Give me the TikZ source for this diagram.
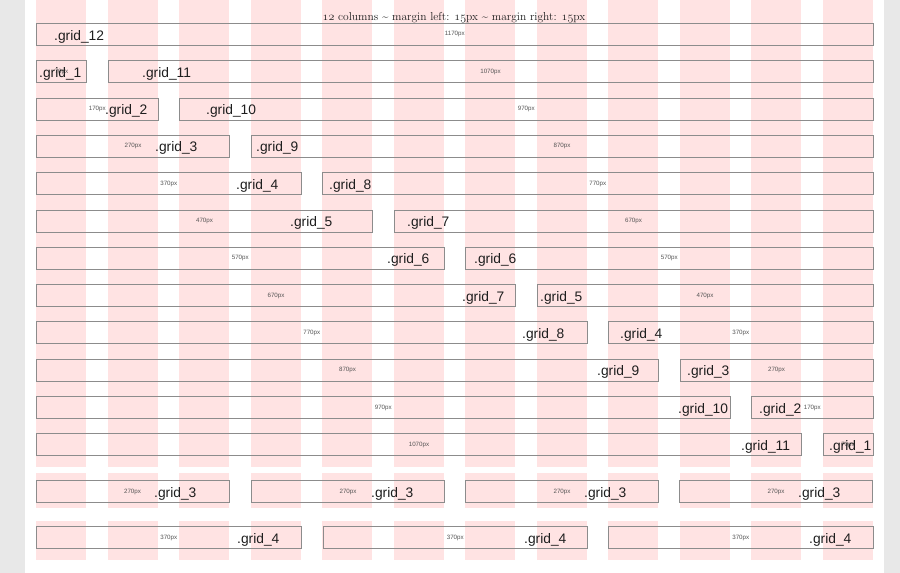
\documentclass[tikz,border=0pt]{standalone}
\usepackage{fontspec}
\newfontfamily\gridfont{Liberation Sans}
\definecolor{bggray}{RGB}{232,232,232}
\definecolor{colpink}{RGB}{255,227,227}
\definecolor{boxgray}{RGB}{140,140,140}
\definecolor{labtext}{RGB}{30,30,30}
\definecolor{pxtext}{RGB}{85,85,85}
\newcommand\osn[1]{{\fontencoding{OML}\fontfamily{cmm}\fontseries{m}\fontshape{it}\selectfont #1}}
\begin{document}
\begin{tikzpicture}[x=1pt,y=-1pt,
  gbox/.style={draw=boxgray, line width=1pt, inner sep=0pt, anchor=north west, minimum height=22pt},
  glabel/.style={font=\gridfont\fontsize{13.8}{14}\selectfont, text=labtext, inner sep=0pt, anchor=base west},
  pxlabel/.style={font=\gridfont\fontsize{6.2}{7}\selectfont, text=pxtext, inner sep=0pt, anchor=center},
  titlestyle/.style={font=\fontsize{11.5}{13}\selectfont, text=labtext, inner sep=0pt, anchor=base}
]
\useasboundingbox (0,0) rectangle (900,573);
\fill[bggray] (0,0) rectangle (900,573);
\fill[white] (25,0) rectangle (884,573);
% pink columns
\foreach \i in {0,...,11} {
  \fill[colpink] ({36+71.5*\i},0) rectangle ++(50,467);
  \fill[colpink] ({36+71.5*\i},473) rectangle ++(50,35);
  \fill[colpink] ({36+71.5*\i},521) rectangle ++(50,39);
}
% title
\node[titlestyle] (title) at (454,20) {\osn{12} columns \textasciitilde{} margin left: \osn{15}px \textasciitilde{} margin right: \osn{15}px};
% row 1
\node[gbox, minimum width=836.5pt] (r1) at (36,23) {};
\node[pxlabel] (r1px) at ([yshift=0.5pt]r1.center) {1170px};
\node[glabel] (r1lab) at (54,40) {.grid\_12};
% rows 2..12
\foreach \k/\lx/\rx in {2/39/142, 3/105/206, 4/155/256, 5/236/329, 6/290/407, 7/387/474, 8/462/540, 9/522/620, 10/597/687, 11/678/759, 12/741/829} {
  \pgfmathsetmacro\yt{23+37.3*(\k-1)}
  \pgfmathtruncatemacro\nl{\k-1}
  \pgfmathtruncatemacro\nr{13-\k}
  \pgfmathsetmacro\wl{71.5*\nl-21.5}
  \pgfmathsetmacro\wr{71.5*\nr-21.5}
  \pgfmathtruncatemacro\pl{100*\nl-30}
  \pgfmathtruncatemacro\pr{100*\nr-30}
  \node[gbox, minimum width=\wl pt] (r\k-l) at (36,\yt) {};
  \node[gbox, minimum width=\wr pt] (r\k-r) at ({872.5-\wr},\yt) {};
  \node[pxlabel] (r\k-lpx) at (r\k-l.center) {\pl px};
  \node[pxlabel] (r\k-rpx) at (r\k-r.center) {\pr px};
  \node[glabel] (r\k-llab) at (\lx,\yt+17) {.grid\_\nl};
  \node[glabel] (r\k-rlab) at (\rx,\yt+17) {.grid\_\nr};
}
% row of grid_3
\foreach \j/\bx/\lx in {1/35.5/154, 2/251/371, 3/465/584, 4/679/798} {
  \node[gbox, minimum width=193pt] (t\j) at (\bx,480) {};
  \node[pxlabel] (t\j px) at (t\j.center) {270px};
  \node[glabel] (t\j lab) at (\lx,497) {.grid\_3};
}
% row of grid_4
\foreach \j/\bx/\lx in {1/36/237, 2/322.5/524, 3/608/809} {
  \node[gbox, minimum width=264.5pt] (f\j) at (\bx,526) {};
  \node[pxlabel] (f\j px) at (f\j.center) {370px};
  \node[glabel] (f\j lab) at (\lx,543) {.grid\_4};
}
\end{tikzpicture}
\end{document}
